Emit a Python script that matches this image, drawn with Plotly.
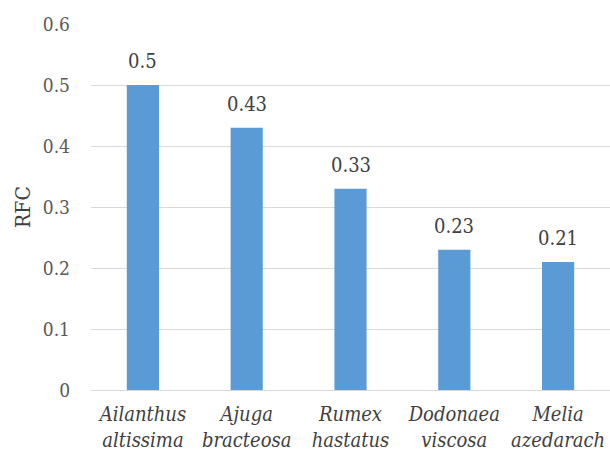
import plotly.graph_objects as go

species = ["<i>Ailanthus<br>altissima</i>", "<i>Ajuga<br>bracteosa</i>", "<i>Rumex<br>hastatus</i>",
           "<i>Dodonaea<br>viscosa</i>", "<i>Melia<br>azedarach</i>"]
rfc = [0.5, 0.43, 0.33, 0.23, 0.21]
labels = ["0.5", "0.43", "0.33", "0.23", "0.21"]
yticks = [0, 0.1, 0.2, 0.3, 0.4, 0.5, 0.6]
yticktext = ["0", "0.1", "0.2", "0.3", "0.4", "0.5", "0.6"]

font = "DejaVu Serif Condensed, DejaVu Serif"

fig = go.Figure(go.Bar(
    x=species, y=rfc,
    marker=dict(color="#5b9bd5", line=dict(width=0)),
))

for xv, yv, t in zip(species, rfc, labels):
    fig.add_annotation(x=xv, y=yv, text=t, showarrow=False, yanchor="bottom",
                       yshift=10, font=dict(family=font, size=20, color="#404040"))

fig.update_layout(
    width=610, height=455,
    margin=dict(l=91, r=0, t=24, b=65),
    paper_bgcolor="white", plot_bgcolor="white",
    bargap=0.69,
    showlegend=False,
    font=dict(family=font, size=20, color="#595959"),
)
fig.update_yaxes(
    range=[0, 0.6], tickvals=yticks, ticktext=yticktext,
    showgrid=True, gridcolor="#d9d9d9", gridwidth=1.3,
    zeroline=True, zerolinecolor="#d9d9d9", zerolinewidth=1.3,
    showline=False, ticks="", ticklen=0,
    tickfont=dict(family=font, size=19, color="#595959"),
    ticklabelstandoff=20,
    title=dict(text="RFC", font=dict(family=font, size=21, color="#404040"), standoff=6),
)
fig.update_xaxes(
    showgrid=False, showline=False, ticks="",
    tickfont=dict(family=font, size=20, color="#404040"),
    tickangle=0, ticklabelstandoff=10,
)

fig.write_html("out.html")
